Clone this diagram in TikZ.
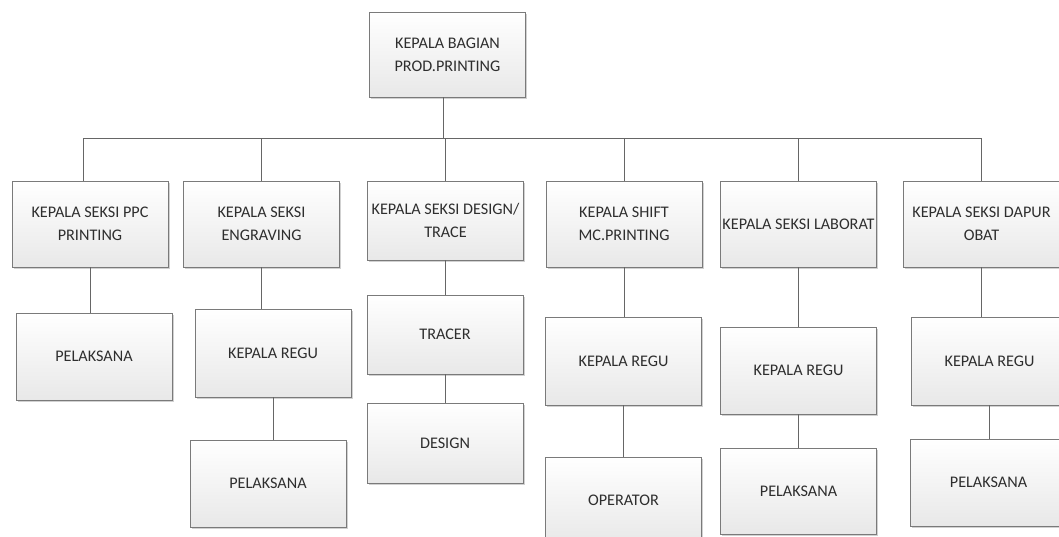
\documentclass[tikz,border=0pt]{standalone}
\usepackage{fontspec}
\setmainfont{Carlito}
\usetikzlibrary{shadows}
\definecolor{boxline}{HTML}{7A7A7A}
\definecolor{conn}{HTML}{666666}
\definecolor{txt}{HTML}{2E2E2E}
\tikzset{
  orgbox/.style={draw=boxline, line width=0.9pt, top color=white, bottom color=black!9,
    minimum width=156pt, inner sep=1pt, align=center, text=txt,
    font=\fontsize{16.2}{23}\selectfont,
    drop shadow={shadow xshift=1.6pt, shadow yshift=-1.6pt, fill=black!30, opacity=0.6}},
  conline/.style={draw=conn, line width=1pt}
}
\begin{document}
\begin{tikzpicture}[x=1pt,y=-1pt]
\useasboundingbox (0,0) rectangle (1059,536);
\begin{scope}
\clip (0,0) rectangle (1059,536);
% level 0
\node[orgbox, minimum height=85pt] (top) at (447.5,54.5) {KEPALA BAGIAN\\PROD.PRINTING};
% level 1
\node[orgbox, minimum height=86pt] (b1) at (90,224) {KEPALA SEKSI PPC\\PRINTING};
\node[orgbox, minimum height=86pt] (b2) at (261.5,224) {KEPALA SEKSI\\ENGRAVING};
\node[orgbox, minimum height=79pt] (b3) at (445.5,220.5) {KEPALA SEKSI DESIGN/\\TRACE};
\node[orgbox, minimum height=86pt] (b4) at (624,224) {KEPALA SHIFT\\MC.PRINTING};
\node[orgbox, minimum height=86pt] (b5) at (798.5,224) {KEPALA SEKSI LABORAT};
\node[orgbox, minimum height=86pt] (b6) at (981.5,224) {KEPALA SEKSI DAPUR\\OBAT};
% level 2
\node[orgbox, minimum height=87pt] (p1) at (94,356.5) {PELAKSANA};
\node[orgbox, minimum height=88pt] (r2) at (273,353) {KEPALA REGU};
\node[orgbox, minimum height=79pt] (tr) at (445,334.5) {TRACER};
\node[orgbox, minimum height=88pt] (r4) at (623.5,361) {KEPALA REGU};
\node[orgbox, minimum height=87pt] (r5) at (798.5,370.5) {KEPALA REGU};
\node[orgbox, minimum height=88pt] (r6) at (989.5,361) {KEPALA REGU};
% level 3
\node[orgbox, minimum height=87pt] (p2) at (268,483.5) {PELAKSANA};
\node[orgbox, minimum height=80pt] (de) at (445,443) {DESIGN};
\node[orgbox, minimum height=87pt] (op) at (623.5,500.5) {OPERATOR};
\node[orgbox, minimum height=86pt] (p5) at (798.5,491) {PELAKSANA};
\node[orgbox, minimum height=87pt] (p6) at (988.5,482.5) {PELAKSANA};
% connectors
\coordinate (bus) at (0,138);
\draw[conline] ([xshift=-4pt]top.south) -- ([xshift=-4pt]top.south |- bus);
\draw[conline] ([xshift=-7pt]b1.north |- bus) -- (b6.north |- bus);
\draw[conline] ([xshift=-7pt]b1.north) -- ([xshift=-7pt]b1.north |- bus);
\foreach \b in {b2,b3,b4,b5,b6} \draw[conline] (\b.north) -- (\b.north |- bus);
\draw[conline] (b1.south) -- (b1.south |- p1.north);
\draw[conline] (b2.south) -- (b2.south |- r2.north);
\draw[conline] (b3.south) -- (b3.south |- tr.north);
\draw[conline] (b4.south) -- (b4.south |- r4.north);
\draw[conline] (b5.south) -- (b5.south |- r5.north);
\draw[conline] (b6.south) -- (b6.south |- r6.north);
\draw[conline] (p2.north -| r2.south) -- (r2.south);
\draw[conline] (tr.south) -- (tr.south |- de.north);
\draw[conline] (r4.south) -- (r4.south |- op.north);
\draw[conline] (r5.south) -- (r5.south |- p5.north);
\draw[conline] (r6.south) -- (r6.south |- p6.north);
\end{scope}
\end{tikzpicture}
\end{document}
